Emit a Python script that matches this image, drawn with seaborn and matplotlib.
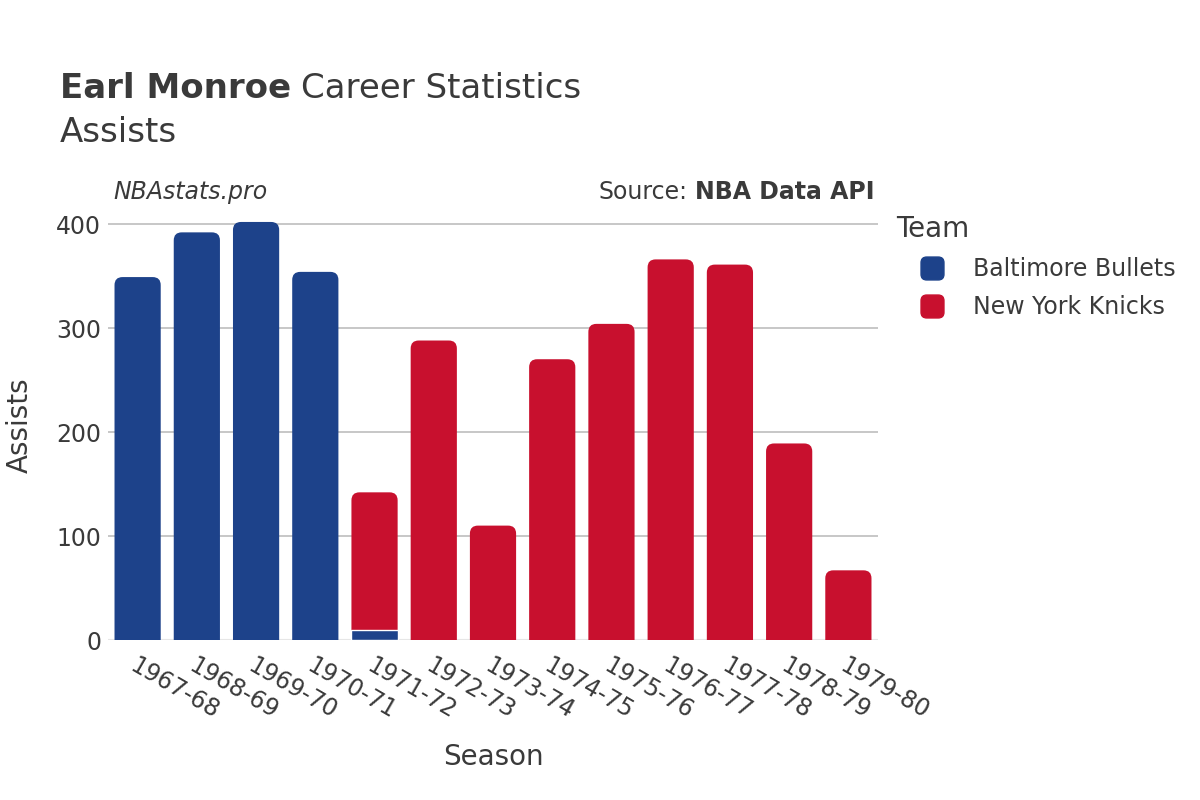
import numpy as np
import pandas as pd
import seaborn as sns
import matplotlib
matplotlib.use("Agg")
import matplotlib.pyplot as plt
from matplotlib.patches import FancyBboxPatch
from matplotlib.lines import Line2D
from matplotlib.path import Path

seasons = ["1967-68", "1968-69", "1969-70", "1970-71", "1971-72", "1972-73", "1973-74",
           "1974-75", "1975-76", "1976-77", "1977-78", "1978-79", "1979-80"]
bullets = [349, 392, 402, 354, 10, 0, 0, 0, 0, 0, 0, 0, 0]
knicks = [0, 0, 0, 0, 132, 288, 110, 270, 304, 366, 361, 189, 67]
teams = ["Baltimore Bullets", "New York Knicks"]
colors = {"Baltimore Bullets": "#1D428A", "New York Knicks": "#C8102E"}

sns.set_theme(style="white")
plt.rcParams['font.family'] = ['DejaVu Sans']
TXT = "#3a3a3a"

fig = plt.figure(figsize=(12, 8), dpi=100)
ax = fig.add_axes([108/1200, 1 - 640/800, 770/1200, 430/800])

totals = [b + k for b, k in zip(bullets, knicks)]
top_team = [teams[1] if k > 0 else teams[0] for k in knicks]
df_top = pd.DataFrame({"Season": seasons, "Assists": totals, "Team": top_team})
bottom_mask = [(b > 0 and k > 0) for b, k in zip(bullets, knicks)]
df_bot = pd.DataFrame({"Season": [s for s, m in zip(seasons, bottom_mask) if m],
                       "Assists": [b for b, m in zip(bullets, bottom_mask) if m]})

sns.barplot(data=df_top, x="Season", y="Assists", hue="Team", palette=colors,
            order=seasons, hue_order=teams, dodge=False, width=0.78, ax=ax,
            legend=False, saturation=1)

ymax = 413.5
ax.set_ylim(0, ymax)
ax.set_xlim(-0.5, len(seasons) - 0.5)

# replace patches with rounded-top bars
px_per_x = 770 / 13
px_per_y = 430 / ymax
r_px = 8
rx = r_px / px_per_x
aspect = px_per_x / px_per_y
old = [p for p in ax.patches]
for p in old:
    x, y = p.get_x(), p.get_y()
    w, h = p.get_width(), p.get_height()
    if h <= 0:
        p.remove()
        continue
    fc = p.get_facecolor()
    p.remove()
    ext = r_px / px_per_y
    fb = FancyBboxPatch((x, y - ext), w, h + ext,
                        boxstyle=f"round,pad=0,rounding_size={rx}",
                        mutation_aspect=aspect, facecolor=fc, edgecolor="none",
                        zorder=2)
    ax.add_patch(fb)

if len(df_bot):
    sns.barplot(data=df_bot, x="Season", y="Assists", color=colors["Baltimore Bullets"],
                order=seasons, width=0.78, ax=ax, saturation=1,
                edgecolor="white", linewidth=1.0, zorder=3)
    ax.set_xlim(-0.5, len(seasons) - 0.5)
    ax.set_ylim(0, ymax)

ax.set_yticks([0, 100, 200, 300, 400])
ax.yaxis.grid(True, color="#bdbdbd", linewidth=1.2, zorder=0)
ax.set_axisbelow(True)
ax.axhline(0, color="#e6e6e6", linewidth=1.5, zorder=1)
for s in ax.spines.values():
    s.set_visible(False)
ax.tick_params(axis="both", length=0, labelsize=17, labelcolor=TXT, pad=5)
ax.set_xticks(range(len(seasons)))
ax.set_xticklabels(seasons, rotation=-30, ha="left", rotation_mode="anchor")
ax.tick_params(axis="x", pad=10)
ax.set_xlabel("Season", fontsize=20, color=TXT, labelpad=14)
ax.set_ylabel("Assists", fontsize=20, color=TXT, labelpad=16)

t1 = fig.text(60/1200, 1 - 88/800, "Earl Monroe", fontsize=24.5, color=TXT, va="center",
              fontweight="bold")
fig.canvas.draw()
bb = t1.get_window_extent()
fig.text(bb.x1 / 1200 + 10/1200, 1 - 88/800, "Career Statistics", fontsize=24.5, color=TXT,
         va="center")
fig.text(60/1200, 1 - 132/800, "Assists", fontsize=24.5, color=TXT, va="center")

fig.text(113/1200, 1 - 192/800, "NBAstats.pro", fontsize=17, style="italic", color=TXT,
         va="center")
t_src = fig.text(874/1200, 1 - 192/800, "NBA Data API", fontsize=17, fontweight="bold",
                 color=TXT, va="center", ha="right")
fig.canvas.draw()
bb2 = t_src.get_window_extent()
fig.text(bb2.x0 / 1200 - 7/1200, 1 - 192/800, "Source:", fontsize=17, color=TXT,
         va="center", ha="right")

# rounded-square legend marker
rb = FancyBboxPatch((-0.5, -0.5), 1, 1, boxstyle="round,pad=0,rounding_size=0.25")
rpath = rb.get_path()
rmarker = Path(rpath.vertices, rpath.codes)
handles = [Line2D([0], [0], marker=rmarker, linestyle="none", markersize=16.5,
                  markerfacecolor=colors[t], markeredgecolor=colors[t]) for t in teams]
leg = fig.legend(handles, teams, loc="upper left", bbox_to_anchor=(877/1200, 1 - 196/800),
                 frameon=False, fontsize=17, title="Team", title_fontsize=20,
                 labelcolor=TXT, handlelength=3.05, handletextpad=0.2, labelspacing=0.6,
                 alignment="left", borderpad=0.3)
leg.get_title().set_color(TXT)

fig.savefig("out.png", dpi=100, facecolor="white")
